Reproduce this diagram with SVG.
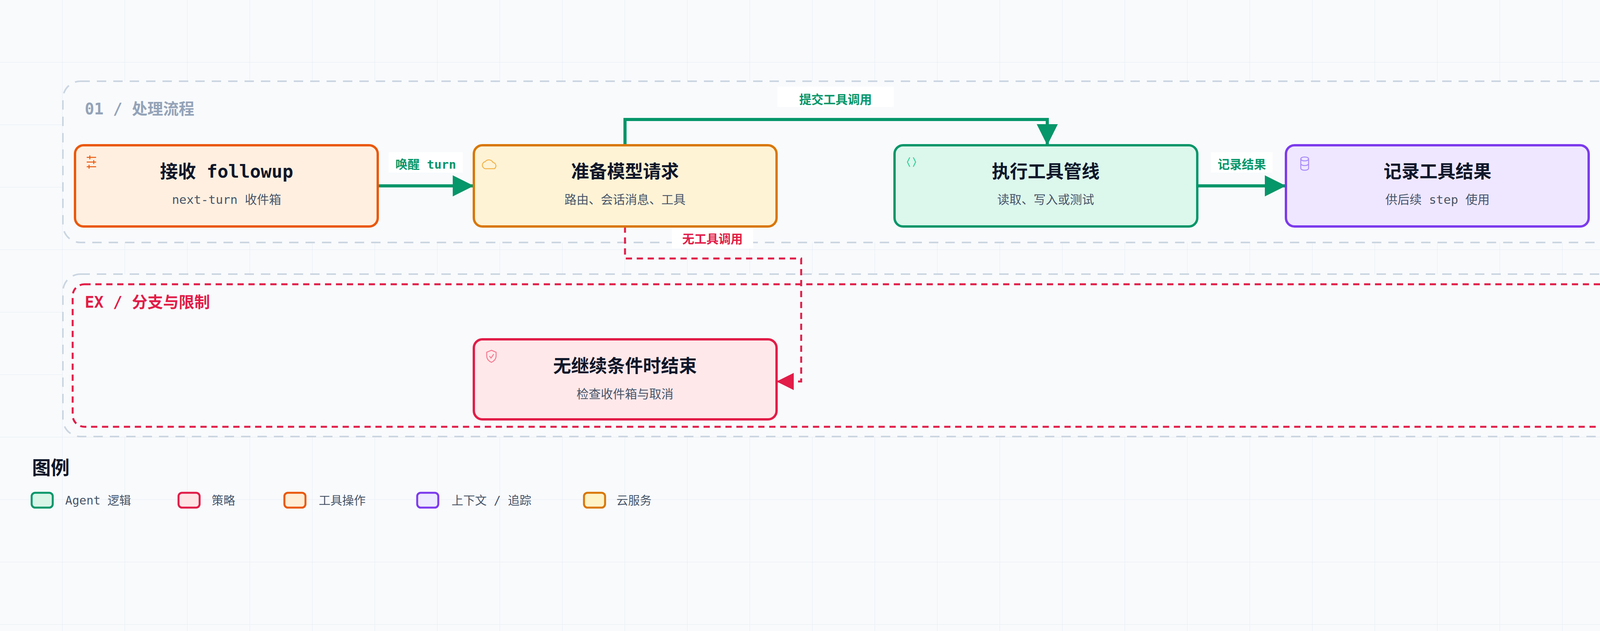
<svg xmlns="http://www.w3.org/2000/svg" width="4940" height="1616" viewBox="0 0 4940 1616">
<defs>
<pattern id="grid" width="160" height="160" patternUnits="userSpaceOnUse">
<path d="M160 0V160M0 160H160" fill="none" stroke="#e2e8f0" stroke-width="2" opacity="0.7"/>
</pattern>
<marker id="ag" viewBox="0 0 10 10" refX="10" refY="5" markerWidth="60" markerHeight="54" markerUnits="userSpaceOnUse" orient="auto"><path d="M0 0L10 5L0 10Z" fill="#059669"/></marker>
<marker id="ar" viewBox="0 0 10 10" refX="10" refY="5" markerWidth="48" markerHeight="44" markerUnits="userSpaceOnUse" orient="auto"><path d="M0 0L10 5L0 10Z" fill="#e11d48"/></marker>
</defs>
<style>
text{font-family:"DejaVu Sans Mono","Noto Sans CJK SC",monospace}
.t{font-size:46px;font-weight:700;fill:#0f172a;text-anchor:middle}
.s{font-size:31px;fill:#475569;text-anchor:middle}
.lb{font-size:31px;font-weight:600;text-anchor:middle}
.nd{stroke-width:6}
.lg{font-size:30px;fill:#475569}
</style>
<rect width="4940" height="1616" fill="#f8fafc"/>
<rect width="4940" height="1616" fill="url(#grid)"/>
<g id="group-main">
<rect x="161" y="208" width="4715" height="413" rx="45" fill="#f8fafc" stroke="#cbd5e1" stroke-width="4" stroke-dasharray="24 18"/>
<text x="217" y="293" font-size="40" font-weight="700" fill="#94a3b8">01 / 处理流程</text>
</g>
<g id="group-ex">
<rect x="161" y="702" width="4715" height="416" rx="45" fill="#f8fafc" stroke="#cbd5e1" stroke-width="4" stroke-dasharray="24 18"/>
<rect x="186" y="728" width="4665" height="365" rx="30" fill="none" stroke="#e11d48" stroke-width="5" stroke-dasharray="16 12"/>
<text x="217" y="788" font-size="40" font-weight="700" fill="#e11d48">EX / 分支与限制</text>
</g>
<g id="connectors" fill="none">
<path d="M967 476H1213" stroke="#059669" stroke-width="8" marker-end="url(#ag)"/>
<path d="M1600 372V306H2681V372" stroke="#059669" stroke-width="8" marker-end="url(#ag)"/>
<path d="M3065 476H3292" stroke="#059669" stroke-width="8" marker-end="url(#ag)"/>
<path d="M1600 580V662H2051V977H1988" stroke="#e11d48" stroke-width="5" stroke-dasharray="16 12" marker-end="url(#ar)"/>
<rect x="995" y="390" width="190" height="52" fill="#fff"/>
<text class="lb" x="1090" y="432" fill="#059669">唤醒 turn</text>
<rect x="1990" y="222" width="298" height="52" fill="#fff"/>
<text class="lb" x="2139" y="266" fill="#059669">提交工具调用</text>
<rect x="3100" y="390" width="158" height="52" fill="#fff"/>
<text class="lb" x="3179" y="432" fill="#059669">记录结果</text>
<rect x="1720" y="584" width="208" height="52" fill="#fff"/>
<text class="lb" x="1824" y="623" fill="#e11d48">无工具调用</text>
</g>
<g id="node-receive">
<rect class="nd" x="192" y="372" width="775" height="208" rx="22" fill="#ffefe0" stroke="#ea580c"/>
<path d="M222 403H246M222 415H246M222 427H246M230 398V408M240 410V420M228 422V432" stroke="#ea580c" stroke-width="2.5" fill="none"/>
<text class="t" x="580" y="455">接收 followup</text>
<text class="s" x="580" y="522">next-turn 收件箱</text>
</g>
<g id="node-prepare">
<rect class="nd" x="1213" y="372" width="775" height="208" rx="22" fill="#fff3d6" stroke="#d97706"/>
<path d="M1246 432H1266A9 9 0 0 0 1262 416A12 12 0 0 0 1242 414A9 9 0 0 0 1246 432Z" stroke="#f2b44c" stroke-width="2.5" fill="none"/>
<text class="t" x="1600" y="455">准备模型请求</text>
<text class="s" x="1600" y="522">路由、会话消息、工具</text>
</g>
<g id="node-exec">
<rect class="nd" x="2290" y="372" width="775" height="208" rx="22" fill="#dcf7ec" stroke="#059669"/>
<path d="M2329 403L2323 415L2329 427M2338 403L2344 415L2338 427" stroke="#34d399" stroke-width="2.5" fill="none"/>
<text class="t" x="2677" y="455">执行工具管线</text>
<text class="s" x="2677" y="522">读取、写入或测试</text>
</g>
<g id="node-record">
<rect class="nd" x="3292" y="372" width="775" height="208" rx="22" fill="#efe7ff" stroke="#7c3aed"/>
<g stroke="#a78bfa" stroke-width="2.5" fill="none"><ellipse cx="3340" cy="407" rx="10" ry="5"/><path d="M3330 407V431A10 5 0 0 0 3350 431V407M3330 419A10 5 0 0 0 3350 419"/></g>
<text class="t" x="3680" y="455">记录工具结果</text>
<text class="s" x="3680" y="522">供后续 step 使用</text>
</g>
<g id="node-end">
<rect class="nd" x="1213" y="869" width="775" height="205" rx="22" fill="#ffe8ea" stroke="#e11d48"/>
<path d="M1258 897L1270 902V912C1270 920 1264 925 1258 928C1252 925 1246 920 1246 912V902Z M1253 912L1257 917L1264 907" stroke="#f47c93" stroke-width="2.5" fill="none"/>
<text class="t" x="1600" y="953">无继续条件时结束</text>
<text class="s" x="1600" y="1020">检查收件箱与取消</text>
</g>
<g id="legend">
<text x="82" y="1215" font-size="48" font-weight="700" fill="#0f172a">图例</text>
<rect x="81" y="1262" width="54" height="38" rx="9" fill="#d8f5e8" stroke="#059669" stroke-width="5"/>
<text class="lg" x="167" y="1292">Agent 逻辑</text>
<rect x="457" y="1262" width="54" height="38" rx="9" fill="#ffe4e6" stroke="#e11d48" stroke-width="5"/>
<text class="lg" x="542" y="1292">策略</text>
<rect x="728" y="1262" width="54" height="38" rx="9" fill="#ffedd5" stroke="#ea580c" stroke-width="5"/>
<text class="lg" x="816" y="1292">工具操作</text>
<rect x="1068" y="1262" width="54" height="38" rx="9" fill="#ede9fe" stroke="#7c3aed" stroke-width="5"/>
<text class="lg" x="1156" y="1292">上下文 / 追踪</text>
<rect x="1495" y="1262" width="54" height="38" rx="9" fill="#fef3c7" stroke="#d97706" stroke-width="5"/>
<text class="lg" x="1578" y="1292">云服务</text>
</g>
<text x="4900" y="1576" font-size="26" fill="#64748b" text-anchor="end" font-family="Noto Sans CJK SC,sans-serif">掘金技术社区 @ JTide_</text>
</svg>
